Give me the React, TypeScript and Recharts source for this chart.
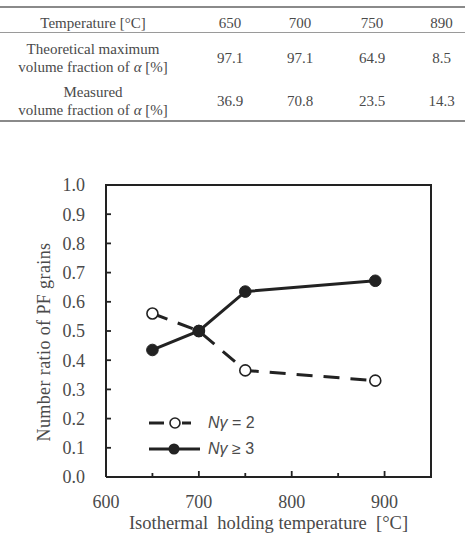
import { LineChart, Line, XAxis, YAxis, Legend, Label } from "recharts";

// table values
const TABLE_TEMPS = ["650", "700", "750", "890"];
const THEORETICAL = ["97.1", "97.1", "64.9", "8.5"];
const MEASURED = ["36.9", "70.8", "23.5", "14.3"];

// chart values
const HOLD_TEMPS = [650, 700, 750, 890];
const RATIO_N2 = [0.56, 0.5, 0.365, 0.33];
const RATIO_N3 = [0.435, 0.5, 0.635, 0.672];
const X_TICKS = [600, 650, 700, 750, 800, 850, 900];
const Y_TICKS = [0, 0.1, 0.2, 0.3, 0.4, 0.5, 0.6, 0.7, 0.8, 0.9, 1.0];
const X_DOMAIN = [600, 950];
const Y_DOMAIN = [0, 1];
const SERIES_NAMES = ["N\u03b3 = 2", "N\u03b3 \u2265 3"];

const INK = "#222";
const TEXT = "#4a4a4a";
const SERIF = '"Liberation Serif", "Times New Roman", serif';
const SANS = '"Liberation Sans", Arial, sans-serif';

const CHART_W = 465;
const CHART_H = 371;
const MARGIN = { top: 15, right: 34, left: 0, bottom: 0 };
const Y_AXIS_W = 106;
const X_AXIS_H = 64;

const chartData = HOLD_TEMPS.map((t, i) => ({
  temp: t,
  n2: RATIO_N2[i],
  n3: RATIO_N3[i],
}));

// column centres of the table: 93, 230, 300, 372, 442
const COL_WIDTHS = [186, 88, 52, 92, 47];

function XTick(props: any) {
  const { x, y, payload } = props;
  const major = payload.value % 100 === 0;
  return (
    <g>
      <line x1={x} x2={x} y1={y} y2={y - (major ? 6 : 4)} stroke={INK} strokeWidth={1.8} />
      {major && (
        <text x={x} y={y + 31} textAnchor="middle" fontFamily={SERIF} fontSize={18} fill={TEXT}>
          {payload.value}
        </text>
      )}
    </g>
  );
}

function YTick(props: any) {
  const { x, y, payload } = props;
  return (
    <g>
      <line x1={x} x2={x + 5} y1={y} y2={y} stroke={INK} strokeWidth={1.8} />
      <text x={x - 21} y={y} dy="0.35em" textAnchor="end" fontFamily={SERIF} fontSize={18} fill={TEXT}>
        {Number(payload.value).toFixed(1)}
      </text>
    </g>
  );
}

function OpenDot(props: any) {
  const { cx, cy, index } = props;
  return <circle key={`o-${index}`} cx={cx} cy={cy} r={5.5} fill="#fff" stroke={INK} strokeWidth={1.6} />;
}

function FilledDot(props: any) {
  const { cx, cy, index } = props;
  return <circle key={`f-${index}`} cx={cx} cy={cy} r={5.8} fill={INK} stroke={INK} strokeWidth={1} />;
}

function LegendContent() {
  return (
    <div style={{ display: "flex", flexDirection: "column" }}>
      {SERIES_NAMES.map((name, i) => {
        const sym = name.split(" ")[0];
        const tail = name.slice(sym.length);
        return (
          <div key={name} style={{ display: "flex", alignItems: "center", height: 26 }}>
            <svg width={52} height={14} style={{ display: "block" }}>
              {i === 0 ? (
                <>
                  <line x1={0} x2={15} y1={7} y2={7} stroke={INK} strokeWidth={3} />
                  <line x1={33} x2={42} y1={7} y2={7} stroke={INK} strokeWidth={3} />
                  <circle cx={26} cy={7} r={5} fill="#fff" stroke={INK} strokeWidth={1.6} />
                </>
              ) : (
                <>
                  <line x1={0} x2={51} y1={7} y2={7} stroke={INK} strokeWidth={3} />
                  <circle cx={25} cy={7} r={5.5} fill={INK} />
                </>
              )}
            </svg>
            <span style={{ marginLeft: 7, fontFamily: SANS, fontSize: 16, color: TEXT, whiteSpace: "pre" }}>
              <i>{sym}</i>
              {tail}
            </span>
          </div>
        );
      })}
    </div>
  );
}

function TableRow({ top, height, cells }: { top: number; height: number; cells: React.ReactNode[] }) {
  return (
    <div style={{ position: "absolute", left: 0, top, height, width: 465, display: "flex", alignItems: "center" }}>
      {cells.map((c, i) => (
        <div key={i} style={{ width: COL_WIDTHS[i], textAlign: "center", lineHeight: "18px" }}>
          {c}
        </div>
      ))}
    </div>
  );
}

export default function App() {
  return (
    <div style={{ position: "absolute", left: 0, top: 0, width: 465, height: 541, background: "#fff" }}>
      <div style={{ position: "absolute", left: 0, top: 0, width: 465, height: 130, fontFamily: SERIF, fontSize: 15, color: TEXT }}>
        <div style={{ position: "absolute", left: 0, top: 6, width: 465, height: 2, background: "#8a8a8a" }} />
        <TableRow top={12} height={22} cells={["Temperature [°C]", ...TABLE_TEMPS]} />
        <div style={{ position: "absolute", left: 0, top: 32, width: 465, height: 1, background: "#9a9a9a" }} />
        <TableRow
          top={40}
          height={36}
          cells={[
            <>
              Theoretical maximum
              <br />
              volume fraction of <i>α</i> [%]
            </>,
            ...THEORETICAL,
          ]}
        />
        <TableRow
          top={83}
          height={36}
          cells={[
            <>
              Measured
              <br />
              volume fraction of <i>α</i> [%]
            </>,
            ...MEASURED,
          ]}
        />
        <div style={{ position: "absolute", left: 0, top: 120, width: 465, height: 2, background: "#8a8a8a" }} />
      </div>

      <div style={{ position: "absolute", left: 0, top: 170, width: CHART_W, height: CHART_H }}>
        <LineChart width={CHART_W} height={CHART_H} data={chartData} margin={MARGIN}>
          <XAxis
            dataKey="temp"
            type="number"
            domain={X_DOMAIN}
            ticks={X_TICKS}
            tickSize={0}
            tickMargin={0}
            tick={<XTick />}
            axisLine={{ stroke: INK, strokeWidth: 2 }}
            tickLine={false}
            height={X_AXIS_H}
          >
            <Label
              value={"Isothermal\u00a0 holding temperature\u00a0 [°C]"}
              position="insideBottom"
              offset={12}
              style={{ fontFamily: SERIF, fontSize: 18.5, fill: TEXT }}
            />
          </XAxis>
          <YAxis
            type="number"
            domain={Y_DOMAIN}
            ticks={Y_TICKS}
            tickSize={0}
            tickMargin={0}
            tick={<YTick />}
            tickLine={false}
            width={Y_AXIS_W}
            axisLine={{ stroke: INK, strokeWidth: 2 }}
          >
            <Label
              content={({ viewBox }: any) => {
                const cx = viewBox.x + 44;
                const cy = viewBox.y + viewBox.height / 2 + 11;
                return (
                  <text
                    x={cx}
                    y={cy}
                    transform={`rotate(-90, ${cx}, ${cy})`}
                    textAnchor="middle"
                    dominantBaseline="central"
                    fontFamily={SERIF}
                    fontSize={18}
                    letterSpacing={0.4}
                    fill={TEXT}
                  >
                    Number ratio of PF grains
                  </text>
                );
              }}
            />
          </YAxis>
          <Legend
            layout="horizontal"
            verticalAlign="middle"
            align="center"
            content={<LegendContent />}
            wrapperStyle={{ left: 149, top: 240, width: 140, height: 52 }}
          />
          <Line
            dataKey="n2"
            name={SERIES_NAMES[0]}
            stroke={INK}
            strokeWidth={3}
            strokeDasharray="16 11"
            dot={<OpenDot />}
            isAnimationActive={false}
          />
          <Line
            dataKey="n3"
            name={SERIES_NAMES[1]}
            stroke={INK}
            strokeWidth={3}
            dot={<FilledDot />}
            isAnimationActive={false}
          />
        </LineChart>
        {/* top and right edges of the plot frame */}
        <div
          style={{
            position: "absolute",
            left: MARGIN.left + Y_AXIS_W - 1,
            top: MARGIN.top - 1,
            width: CHART_W - MARGIN.left - MARGIN.right - Y_AXIS_W,
            height: CHART_H - MARGIN.top - MARGIN.bottom - X_AXIS_H,
            borderTop: `2px solid ${INK}`,
            borderRight: `2px solid ${INK}`,
            pointerEvents: "none",
          }}
        />
      </div>
    </div>
  );
}
